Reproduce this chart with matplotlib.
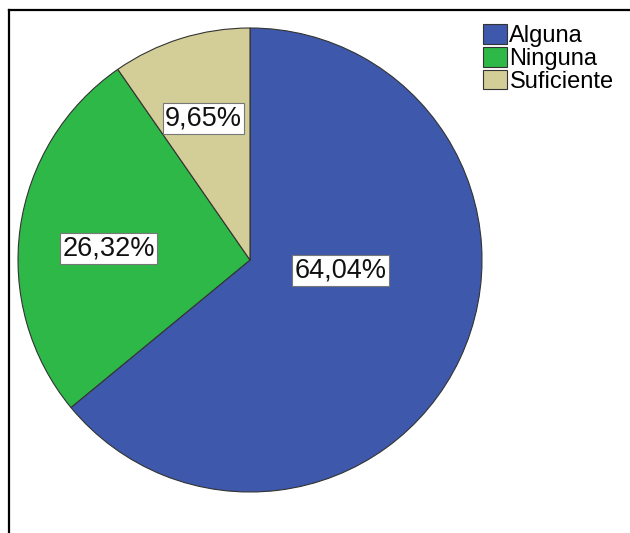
import matplotlib.pyplot as plt
from matplotlib.lines import Line2D

categories = ['Alguna', 'Ninguna', 'Suficiente']
percents = [64.04, 26.32, 9.65]
colors = ['#3E58AC', '#2EB848', '#D3CE97']
# label anchor points, in pie radius units
label_pos = [(0.39, -0.045), (-0.61, 0.05), (-0.20, 0.61)]

W, H = 630, 533
cx, cy, R = 250, 260, 232   # pie centre and radius in pixels

plt.rcParams['font.family'] = ['Liberation Sans', 'DejaVu Sans']

fig = plt.figure(figsize=(W / 100, H / 100), dpi=100)
ax = fig.add_axes([0, 0, 1, 1])

wedges, _ = ax.pie(percents, colors=colors, startangle=90, counterclock=False,
                   wedgeprops=dict(edgecolor='#333333', linewidth=0.8))

for p, (x, y) in zip(percents, label_pos):
    txt = '{:.2f}%'.format(p).replace('.', ',')
    ax.text(x, y, txt, ha='center', va='center', fontsize=19.5, color='#111111',
            bbox=dict(boxstyle='square,pad=0.08', fc='white', ec='#777777', lw=0.8))

ax.set_aspect('auto')
ax.set_xlim(-cx / R, (W - cx) / R)
ax.set_ylim(-(H - cy) / R, cy / R)
ax.axis('off')

leg = fig.legend(wedges, categories, loc='upper left',
                 bbox_to_anchor=(483 / W, 1 - 24 / H), frameon=False,
                 fontsize=17, handlelength=1.0, handleheight=0.9,
                 handletextpad=0.12, labelspacing=0.0, borderpad=0,
                 borderaxespad=0)

# outer frame (left and top edges only are visible)
fig.add_artist(Line2D([9 / W, 9 / W], [0, 1 - 10 / H], color='black', lw=1.6,
                      transform=fig.transFigure))
fig.add_artist(Line2D([9 / W, 1], [1 - 10 / H, 1 - 10 / H], color='black', lw=1.6,
                      transform=fig.transFigure))

fig.savefig('out.png', dpi=100)
